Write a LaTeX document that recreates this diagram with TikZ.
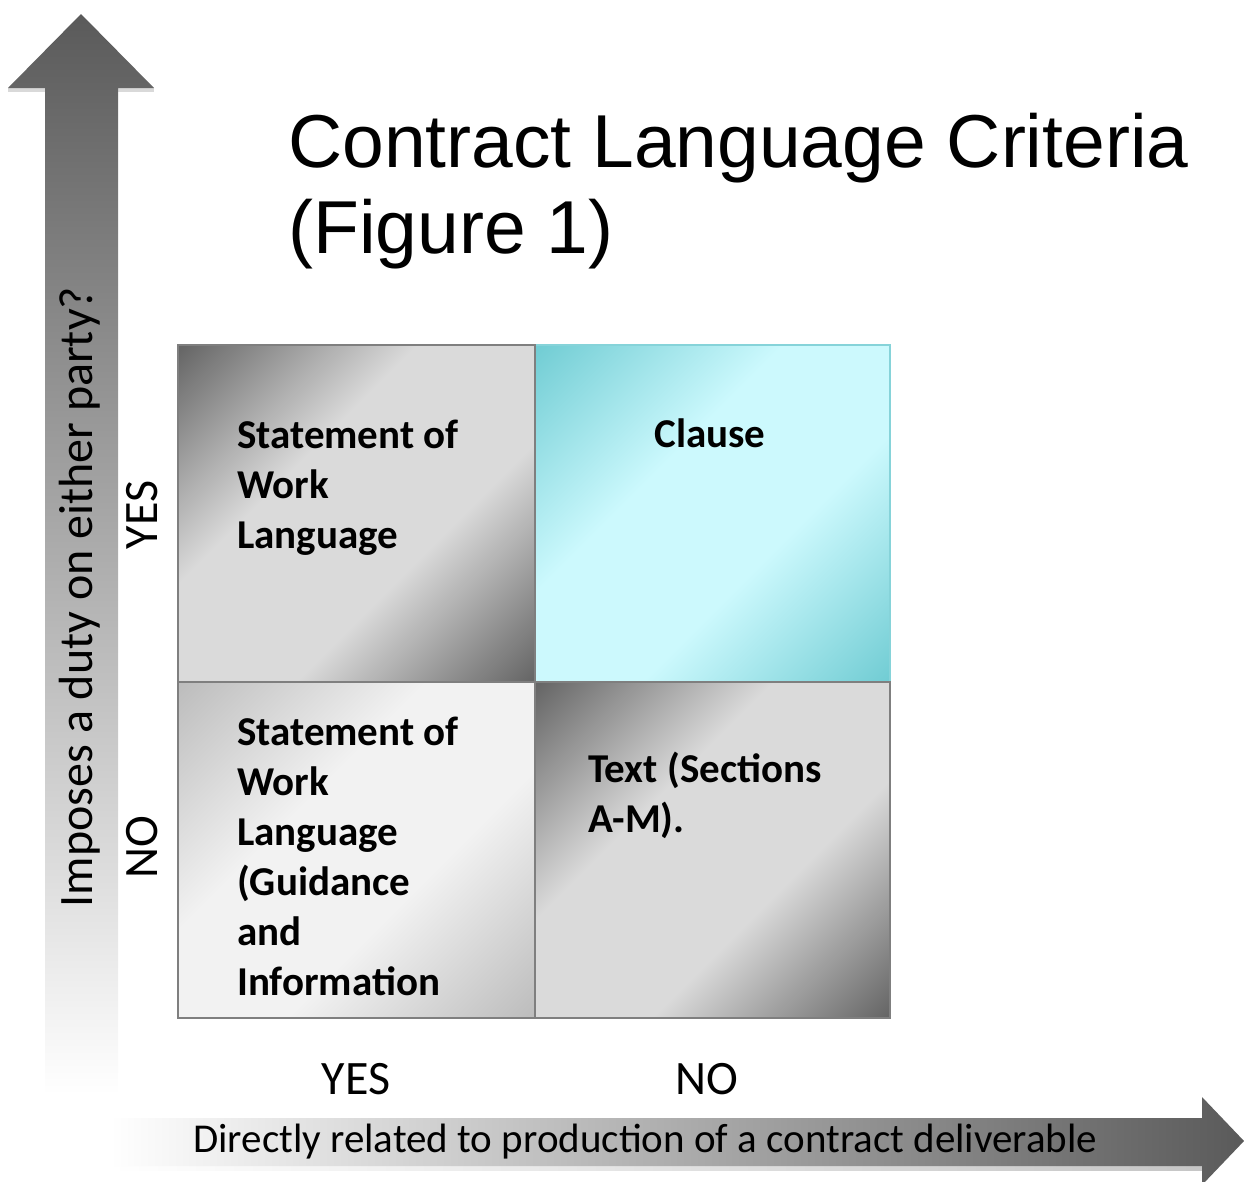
\documentclass[tikz,border=0pt]{standalone}
\usepackage{fontspec}
\setmainfont{Liberation Sans}
\newfontfamily\calfont{Carlito}
\definecolor{qdA}{HTML}{666666}
\definecolor{qlA}{HTML}{DADADA}
\definecolor{qdB}{HTML}{BDBDBD}
\definecolor{qlB}{HTML}{F2F2F2}
\definecolor{qdC}{HTML}{72CDD4}
\definecolor{qlC}{HTML}{CCF9FD}
\definecolor{arrdark}{HTML}{5A5A5A}
\definecolor{arrmid}{HTML}{C4C4C4}
\definecolor{qborder}{HTML}{7F7F7F}
\definecolor{cborder}{HTML}{86D3D9}
\pgfdeclarehorizontalshading{qgrayA}{100bp}{color(0bp)=(qdA); color(15bp)=(qdA); color(39bp)=(qlA); color(61bp)=(qlA); color(85bp)=(qdA); color(100bp)=(qdA)}
\pgfdeclarehorizontalshading{qgrayB}{100bp}{color(0bp)=(qdB); color(15bp)=(qdB); color(40bp)=(qlB); color(60bp)=(qlB); color(85bp)=(qdB); color(100bp)=(qdB)}
\pgfdeclarehorizontalshading{qcyan}{100bp}{color(0bp)=(qdC); color(15bp)=(qdC); color(40bp)=(qlC); color(60bp)=(qlC); color(85bp)=(qdC); color(100bp)=(qdC)}
\begin{document}
\begin{tikzpicture}[x=1pt,y=-1pt,
  quad/.style={rectangle, draw=qborder, line width=1.6pt, inner sep=0pt, shading angle=-45},
  qtext/.style={font=\calfont\bfseries\fontsize{41}{50}\selectfont, align=left, inner sep=0pt, text=black},
  axlab/.style={font=\calfont\fontsize{48}{56}\selectfont, inner sep=0pt, text=black},
  ]
\useasboundingbox (0,0) rectangle (1244,1181);
% vertical arrow
\fill[gray!30] (8,92) -- (45,92) -- (45,88) -- (8,88) -- cycle;
\fill[gray!30] (118,92) -- (154,92) -- (154,88) -- (118,88) -- cycle;
\path[top color=arrdark, middle color=arrmid, bottom color=white]
  (45,1095) -- (45,88) -- (8,88) -- (81,14) -- (154,88) -- (118,88) -- (118,1095) -- cycle;
% horizontal arrow
\path[left color=white, right color=gray!45] (110,1166) -- (1202,1166) -- (1202,1170) -- (110,1170) -- cycle;
\path[left color=white, middle color=arrmid, right color=arrdark]
  (110,1118) -- (1202,1118) -- (1202,1097) -- (1244,1141) -- (1202,1185) -- (1202,1166) -- (110,1166) -- cycle;
% quadrants
\node[quad, draw=cborder, shading=qcyan, minimum width=355pt, minimum height=337pt] (tr) at (712.5,513.5) {};
\node[quad, shading=qgrayA, minimum width=357pt, minimum height=337pt] (tl) at (356.5,513.5) {};
\node[quad, shading=qgrayB, minimum width=357pt, minimum height=336pt] (bl) at (356.5,850) {};
\node[quad, shading=qgrayA, minimum width=355pt, minimum height=336pt] (br) at (712.5,850) {};
% quadrant texts (base anchor = baseline of the last line)
\node[qtext, anchor=base west] (ttl) at (237,548) {Statement of\\Work\\Language};
\node[qtext, anchor=base] (ttr) at (710,447) {Clause};
\node[qtext, anchor=base west] (tbl) at (237,995) {Statement of\\Work\\Language\\(Guidance\\and\\Information};
\node[qtext, anchor=base west] (tbr) at (588,832) {Text (Sections\\A-M).};
% title
\node[anchor=base west, inner sep=0pt, font=\fontsize{75}{86}\selectfont, align=left] (title) at (288,253) {Contract Language Criteria\\(Figure 1)};
% axis labels
\node[axlab, rotate=90, anchor=base] (ylab) at (92,597) {Imposes a duty on either party?};
\node[axlab, rotate=90, anchor=base] (yyes) at (157,515) {YES};
\node[axlab, rotate=90, anchor=base] (yno) at (157,847) {NO};
\node[axlab, anchor=base] (xyes) at (356,1094) {YES};
\node[axlab, anchor=base] (xno) at (707,1094) {NO};
\node[anchor=base west, inner sep=0pt, font=\calfont\fontsize{41}{48}\selectfont] (xlab) at (193,1152) {Directly related to production of a contract deliverable};
\end{tikzpicture}
\end{document}
